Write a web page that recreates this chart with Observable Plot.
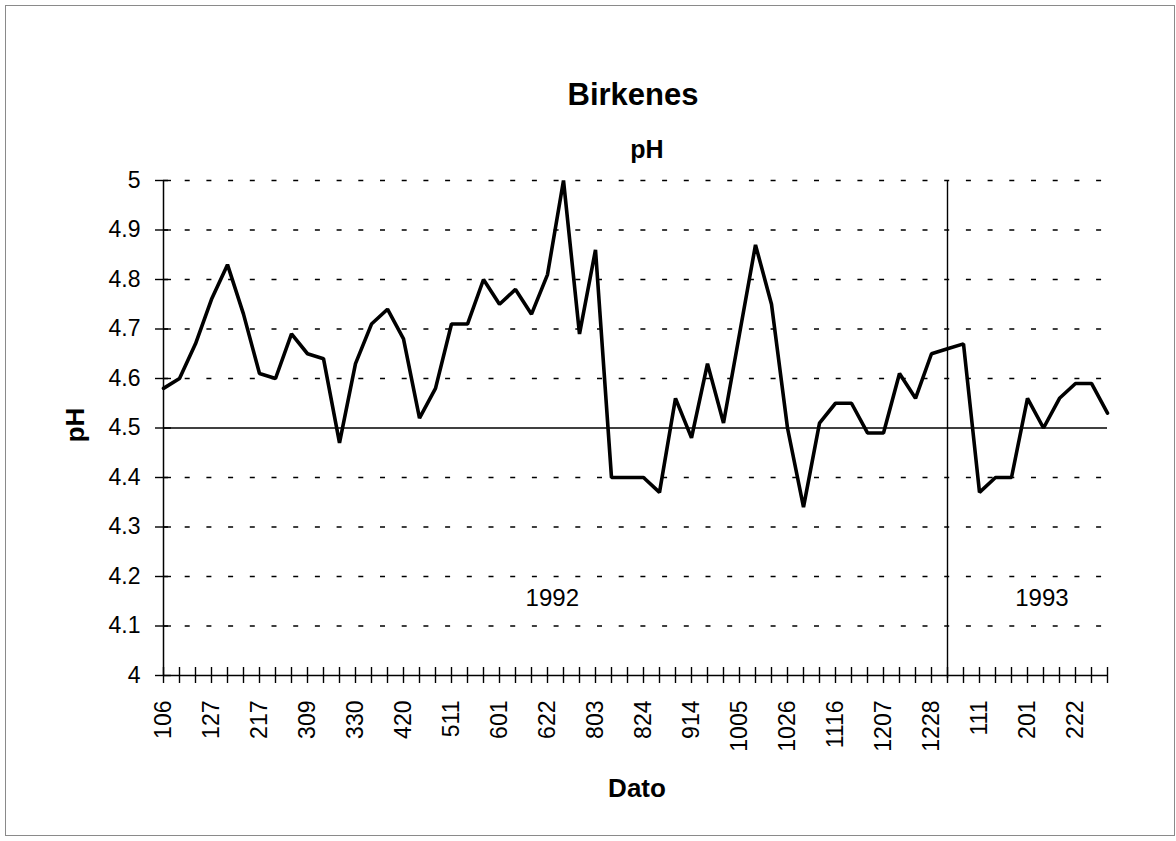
<!DOCTYPE html>
<html><head><meta charset="utf-8">
<script src="https://cdn.jsdelivr.net/npm/d3@7"></script>
<script src="https://cdn.jsdelivr.net/npm/@observablehq/plot@0.6"></script>
<style>
body{margin:0;background:#fff;}
#wrap{position:relative;width:1176px;height:841px;overflow:hidden;font-family:"Liberation Sans",Arial,sans-serif;background:#fff;}
#frame{position:absolute;left:5px;top:5px;width:1170px;height:831px;border:1px solid #8a8a8a;box-sizing:border-box;}
#chart{position:absolute;left:0;top:0;}
.t{position:absolute;font-weight:bold;color:#000;white-space:nowrap;line-height:1;transform:translate(-50%,0);}
#title{left:633px;top:79px;font-size:31px;}
#subtitle{left:647px;top:137px;font-size:25px;}
#xlabel{left:637px;top:775px;font-size:26px;}
#ylabel{left:75px;top:425px;font-size:26px;transform:translate(-50%,-50%) rotate(-90deg);}
</style></head><body>
<div id="wrap">
<div id="frame"></div>
<div id="chart"></div>
<div class="t" id="title">Birkenes</div>
<div class="t" id="subtitle">pH</div>
<div class="t" id="xlabel">Dato</div>
<div class="t" id="ylabel">pH</div>
</div>
<script>
// Tick labels shown on every third weekly sample (MMDD)
const tickLabels = ["106","127","217","309","330","420","511","601","622","803","824","914","1005","1026","1116","1207","1228","111","201","222"];
// Weekly pH values
const phValues = [4.58,4.60,4.67,4.76,4.83,4.73,4.61,4.60,4.69,4.65,
                  4.64,4.47,4.63,4.71,4.74,4.68,4.52,4.58,4.71,4.71,
                  4.80,4.75,4.78,4.73,4.81,5.00,4.69,4.86,4.40,4.40,
                  4.40,4.37,4.56,4.48,4.63,4.51,4.69,4.87,4.75,4.50,
                  4.34,4.51,4.55,4.55,4.49,4.49,4.61,4.56,4.65,4.66,
                  4.67,4.37,4.40,4.40,4.56,4.50,4.56,4.59,4.59,4.53];
const yTicks = [4,4.1,4.2,4.3,4.4,4.5,4.6,4.7,4.8,4.9,5];
const referenceLevel = [4.5];
const yearBoundary = [49];
const yearNames = ["1992","1993"];
const yearAt = [24.3, 54.9];
const yearLevel = [4.155, 4.155];

const data = phValues.map((v, i) => ({i, v}));
const idx = d3.range(phValues.length);
const labelIdx = tickLabels.map((_, k) => k * 3);
const years = yearNames.map((name, k) => ({name, x: yearAt[k], y: yearLevel[k]}));

const chart = Plot.plot({
  width: 1176, height: 841,
  marginLeft: 163, marginRight: 69, marginTop: 180, marginBottom: 166,
  x: {domain: [0, phValues.length - 1], axis: null},
  y: {domain: [4, 5], axis: null},
  style: {fontFamily: '"Liberation Sans", Arial, sans-serif', fontSize: "23px", background: "transparent", color: "#000"},
  marks: [
    Plot.ruleY(yTicks.filter(d => d > 4 && d !== 4.5), {y: d => d, stroke: "#000", strokeWidth: 1.6, strokeDasharray: "5,16.7"}),
    Plot.ruleY(referenceLevel, {stroke: "#000", strokeWidth: 1.4}),
    Plot.ruleX(yearBoundary, {y1: 4, y2: 5, insetTop: 3, stroke: "#000", strokeWidth: 1.4}),
    Plot.ruleY([4], {stroke: "#000", strokeWidth: 1.5}),
    Plot.ruleX([0], {y1: 4, y2: 5, stroke: "#000", strokeWidth: 1.5}),
    Plot.ruleX(idx, {x: d => d, y1: 4, y2: 4, insetTop: -8, insetBottom: -8, stroke: "#000", strokeWidth: 1.4}),
    Plot.ruleY(yTicks, {y: d => d, x1: 0, x2: 0, insetLeft: -8, insetRight: -8, stroke: "#000", strokeWidth: 1.4}),
    Plot.axisY({ticks: yTicks, tickSize: 0, tickPadding: 23, tickFormat: d => String(d), label: null, fontSize: 23}),
    Plot.axisX({ticks: labelIdx, tickSize: 0, tickPadding: 25, tickRotate: -90, tickFormat: d => tickLabels[d / 3], label: null, fontSize: 23}),
    Plot.line(data, {x: "i", y: "v", stroke: "#000", strokeWidth: 3.6, strokeLinejoin: "miter"}),
    Plot.text(years, {x: "x", y: "y", text: "name", fontSize: 24, fill: "#000"})
  ]
});
document.getElementById("chart").appendChild(chart);
</script>
</body></html>
